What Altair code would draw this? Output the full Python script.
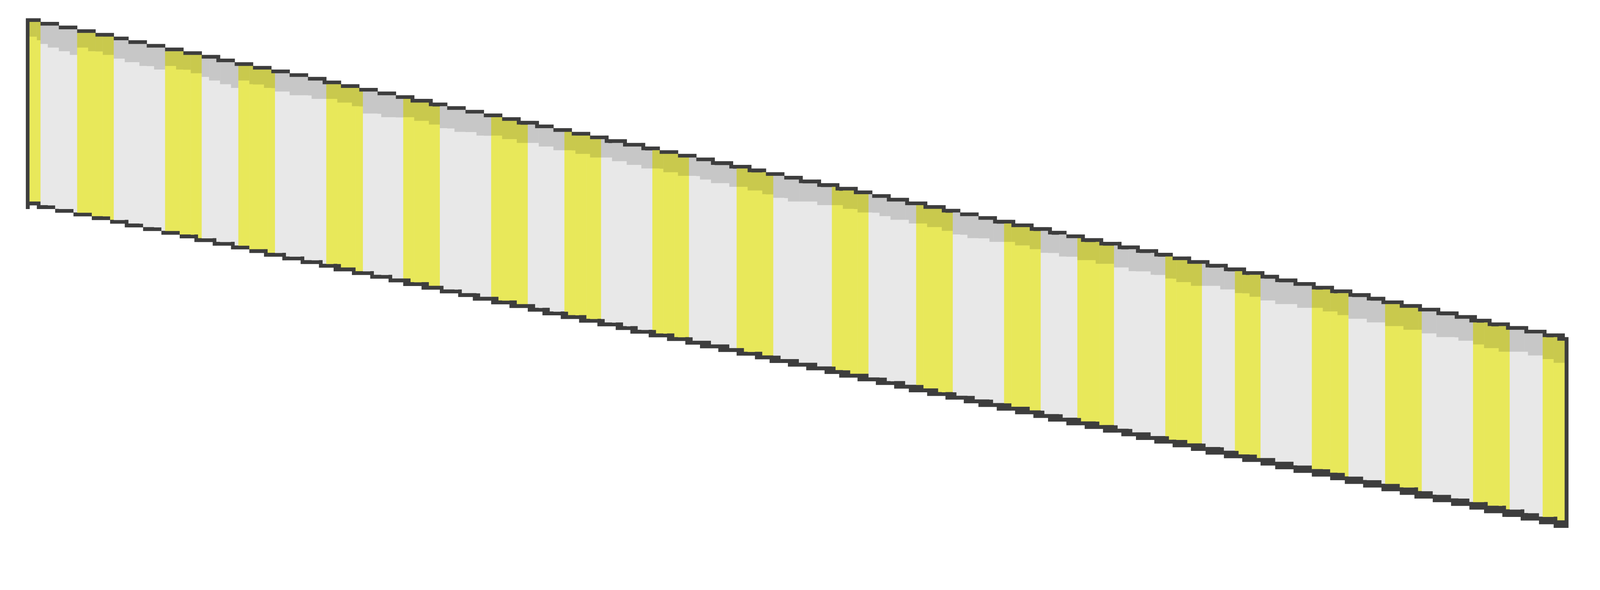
import math
import altair as alt
import pandas as pd

# ---- values (grid units: 1 cell = 10 px) ----
# first column of each stripe; stripes alternate yellow / grey
stripe_starts = [8, 11, 21, 31, 45, 55, 65, 75, 89, 99, 110, 120, 134, 144, 154,
                 164, 178, 188, 201, 211, 227, 237, 250, 260, 274, 284, 294, 304,
                 318, 328, 337, 344, 358, 368, 378, 388, 402, 412, 421]
stripe_kinds = ["yellow", "grey"]
# row where the pale body begins, at the first and last column of each stripe
shade_end_first = [10, 12, 13, 16, 18, 21, 22, 25, 27, 31, 32, 35, 37, 39, 41,
                   43, 46, 48, 51, 54, 56, 58, 61, 64, 66, 69, 71, 73, 76, 78,
                   80, 82, 84, 87, 89, 91, 94, 96, 98]
shade_end_last = [11, 15, 15, 19, 20, 24, 24, 27, 29, 32, 34, 37, 39, 41, 43,
                  46, 48, 51, 53, 56, 58, 61, 63, 66, 68, 70, 72, 75, 78, 79,
                  81, 84, 86, 88, 90, 93, 96, 97, 99]
# outline of the band
left_border_col = 7
right_border_col = 427
top_edge_cols = [6, 425]
top_edge_rows = [5, 92]
bottom_edge_cols = [10, 424]
bottom_edge_rows = [56, 143]
top_edge_overlap = [0.0, 1.2]
bottom_edge_overlap = [0.0, 5.5]

palette = {
    "yellow": {"shade": "#C9C94D", "body": "#E8E85A"},
    "grey": {"shade": "#C7C7C7", "body": "#E8E8E8"},
}
outline_color = "#3D3D3D"


def stair(c, cols, rows):
    return rows[0] + math.floor((c - cols[0]) * (rows[1] - rows[0]) / (cols[1] - cols[0]))


def ramp(c, vals):
    t = (c - left_border_col) / (right_border_col - left_border_col)
    return vals[0] + (vals[1] - vals[0]) * t


# per column: list of (row_from, row_to_exclusive, colour)
columns = {}
top_left = stair(left_border_col, top_edge_cols, top_edge_rows)
bot_left = stair(left_border_col, bottom_edge_cols, bottom_edge_rows) + 1
columns[left_border_col] = [(top_left, bot_left + 1, outline_color)]
top_right = stair(right_border_col - 1, top_edge_cols, top_edge_rows)
bot_right = stair(right_border_col, bottom_edge_cols, bottom_edge_rows)
columns[right_border_col] = [(top_right, bot_right + 1, outline_color)]

ends = stripe_starts[1:] + [right_border_col]
for i, (c0, c1) in enumerate(zip(stripe_starts, ends)):
    kind = stripe_kinds[i % 2]
    n = c1 - c0
    for c in range(c0, c1):
        t_hi = stair(c, top_edge_cols, top_edge_rows)
        t_lo = stair(c - ramp(c, top_edge_overlap), top_edge_cols, top_edge_rows)
        b_lo = stair(c, bottom_edge_cols, bottom_edge_rows)
        b_hi = stair(c - ramp(c, bottom_edge_overlap), bottom_edge_cols, bottom_edge_rows)
        frac = 0 if n == 1 else (c - c0) / (n - 1)
        body = round(shade_end_first[i] + (shade_end_last[i] - shade_end_first[i]) * frac)
        segs = [(t_lo, t_hi + 1, outline_color)]
        if body > t_hi + 1:
            segs.append((t_hi + 1, body, palette[kind]["shade"]))
        segs.append((max(body, t_hi + 1), b_hi, palette[kind]["body"]))
        segs.append((b_hi, b_lo + 1, outline_color))
        columns[c] = segs

# merge identical vertical runs of neighbouring columns into wider rectangles
records = []
open_runs = {}
for c in range(left_border_col, right_border_col + 2):
    segs = set(columns.get(c, []))
    for key in list(open_runs):
        if key not in segs:
            r0, r1, col = key
            records.append({"x0": open_runs[key], "x1": c, "y0": r0, "y1": r1, "fill": col})
            del open_runs[key]
    for key in segs:
        if key not in open_runs:
            open_runs[key] = c

df = pd.DataFrame(records)
df = df.sort_values(["x0", "y0"]).reset_index(drop=True)
# tiny overlap so neighbouring cells leave no hairline seams
df["x1e"] = df["x1"] + 0.06
df["y1e"] = df["y1"] + 0.06

row_shift = 5  # vertical registration of the grid on the page

chart = alt.Chart(df).mark_rect().encode(
    x=alt.X("x0:Q", scale=alt.Scale(domain=[0.8, 435.8], nice=False, zero=False), axis=None),
    x2="x1e:Q",
    y=alt.Y("y0:Q", scale=alt.Scale(domain=[0.8 + row_shift, 149.8 + row_shift],
                                    reverse=True, nice=False, zero=False), axis=None),
    y2="y1e:Q",
    color=alt.Color("fill:N", scale=None, legend=None),
).properties(
    width=4350,
    height=1490,
    padding=0,
    autosize=alt.AutoSizeParams(type="none"),
).configure_view(strokeWidth=0)

chart.save("out.html", embed_options={"renderer": "svg", "actions": False})
